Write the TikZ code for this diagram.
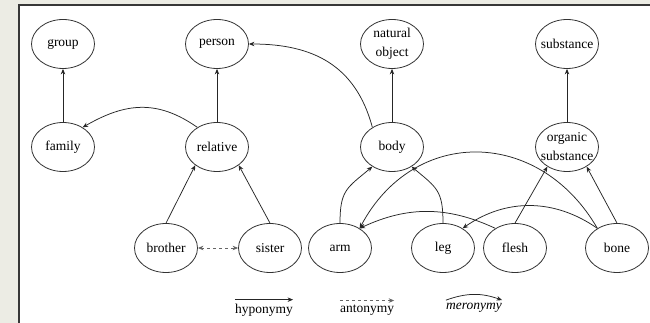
\documentclass[tikz,border=0pt]{standalone}
\usepackage{fontspec}
\setmainfont{Liberation Serif}
\usetikzlibrary{shapes.geometric,arrows.meta}
\definecolor{pagebg}{RGB}{236,236,228}
\definecolor{framegray}{RGB}{55,55,55}
\tikzset{
  concept/.style={ellipse, draw=black!80, line width=0.8pt, minimum width=63pt, minimum height=49pt,
    inner xsep=-7pt, inner ysep=0pt, align=center, font=\fontsize{13.5}{19}\selectfont},
  legendtext/.style={inner sep=0pt, font=\fontsize{13.5}{16}\selectfont},
  hypo/.style={draw=black!85, line width=0.75pt, -{Stealth[length=5.5pt,width=4.5pt]}},
  anto/.style={draw=black!60, line width=0.75pt, dashed, {Stealth[length=5.5pt,width=4.5pt]}-{Stealth[length=5.5pt,width=4.5pt]}},
  mero/.style={draw=black!85, line width=0.75pt, -{Stealth[length=5.5pt,width=4.5pt]}}
}
\begin{document}
\begin{tikzpicture}[x=1pt,y=1pt]
        \useasboundingbox (0,0) rectangle (650,323);
        \fill[pagebg] (0,0) rectangle (650,323);
        \fill[white] (19,0) rectangle (650,318);
        \draw[framegray, line width=1.5pt] (19,0) -- (19,318) -- (650,318);

        \node[concept] (group) at (63,279) {group};
        \node[concept] (person) at (217,279) {person};
        \node[concept] (natobj) at (392,279) {natural\\object};
        \node[concept] (substance) at (567,279) {substance};

        \node[concept] (family) at (63,176) {family};
        \node[concept] (relative) at (217,176) {relative};
        \node[concept] (body) at (392,176) {body};
        \node[concept] (organic) at (567,176) {organic\\substance};

        \node[concept] (brother) at (166,75) {brother};
        \node[concept] (sister) at (270,75) {sister};
        \node[concept] (arm) at (340,75) {arm};
        \node[concept] (leg) at (443,75) {leg};
        \node[concept] (flesh) at (515,75) {flesh};
        \node[concept] (bone) at (617,75) {bone};

        \draw[hypo] (family) -- (group);
        \draw[hypo] (relative) -- (person);
        \draw[hypo] (body) -- (natobj);
        \draw[hypo] (organic) -- (substance);
        \draw[hypo] (brother.north) -- (relative.220);
        \draw[hypo] (sister.north) -- (relative.-40);
        \draw[hypo] (flesh.north) -- (organic.225);
        \draw[hypo] (bone.north) -- (organic.-45);
        \draw[anto] (brother) -- (sister);

        \draw[mero] (relative.135) to[out=145,in=30,looseness=1.1] (family.45);
        \draw[mero] (body.135) to[out=105,in=0,looseness=1.1] (person.east);
        \draw[mero] (arm.north) to[out=90,in=220,looseness=1.3] (body.225);
        \draw[mero] (leg.north) to[out=90,in=-40,looseness=1.3] (body.-45);
        \draw[mero] (bone.135) to[out=120,in=62,looseness=1.25] (arm.45);
        \draw[mero] (flesh.135) to[bend right=25] (arm.45);
        \draw[mero] (bone.135) to[bend right=35] (leg.45);

        \node[legendtext] (hyplab) at (264,13) {hyponymy};
        \node[legendtext] (antlab) at (367,13) {antonymy};
        \node[legendtext] (merlab) at (474,15) {\itshape meronymy};
        \draw[hypo] ([yshift=4pt]hyplab.north west) -- ([yshift=4pt]hyplab.north east);
        \draw[draw=black!60, line width=0.75pt, dashed, -{Stealth[length=5.5pt,width=4.5pt]}] ([yshift=4pt]antlab.north west) -- ([yshift=4pt]antlab.north east);
        \draw[mero] ([yshift=3pt]merlab.north west) to[bend left=20] ([yshift=3pt]merlab.north east);
\end{tikzpicture}
\end{document}
